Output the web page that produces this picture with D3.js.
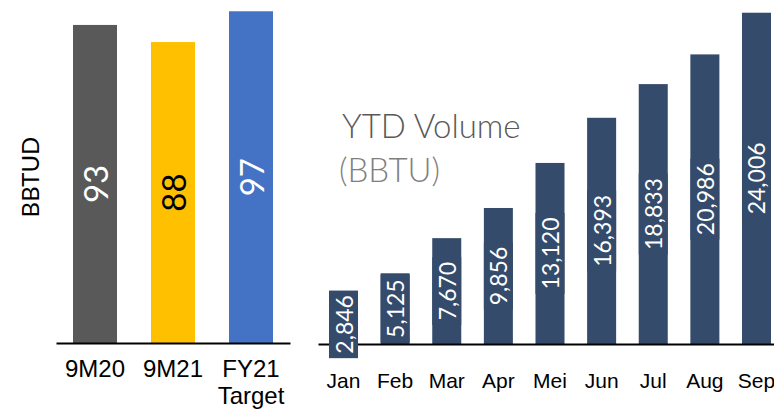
<!DOCTYPE html>
<html>
<head>
<meta charset="utf-8">
<script src="https://cdn.jsdelivr.net/npm/d3@7"></script>
<style>
  body { margin: 0; background: #fff; }
  svg { display: block; font-family: Lato, "Open Sans", sans-serif; }
  .axis path { stroke: #000; stroke-width: 2px; }
  .axis text { fill: #000; }
</style>
</head>
<body>
<div id="chart"></div>
<script>
// left panel: average daily volume
const periods = ["9M20", "9M21", "FY21\nTarget"];
const dailyValues = [93, 88, 97];
const periodColors = ["#595959", "#FFC000", "#4472C4"];
const periodLabelColors = ["#fff", "#000", "#fff"];

// right panel: cumulative volume
const months = ["Jan", "Feb", "Mar", "Apr", "Mei", "Jun", "Jul", "Aug", "Sep"];
const ytdValues = [2846, 5125, 7670, 9856, 13120, 16393, 18833, 20986, 24006];

const W = 774, H = 409;
const fmt = d3.format(",");

const svg = d3.select("#chart").append("svg")
    .attr("width", W)
    .attr("height", H);

// ---- left chart ----
const x1 = d3.scaleBand()
    .domain(periods)
    .range([56, 290])
    .paddingInner(0.436)
    .paddingOuter(0.218);

const y1 = d3.scaleLinear()
    .domain([0, 100])
    .range([343, 1]);

const left = svg.append("g");

left.selectAll(".bar")
    .data(dailyValues)
    .enter()
    .append("rect")
    .attr("class", "bar")
    .attr("x", (d, i) => x1(periods[i]))
    .attr("width", x1.bandwidth())
    .attr("y", d => y1(d))
    .attr("height", d => y1(0) - y1(d))
    .attr("fill", (d, i) => periodColors[i]);

left.selectAll(".val")
    .data(dailyValues)
    .enter()
    .append("text")
    .attr("class", "val")
    .attr("transform", (d, i) => "translate(" + (x1(periods[i]) + x1.bandwidth() / 2) + "," + ((y1(d) + y1(0)) / 2) + ") rotate(-90)")
    .attr("text-anchor", "middle")
    .attr("dominant-baseline", "central")
    .style("font-size", "33px")
    .attr("fill", (d, i) => periodLabelColors[i])
    .text(d => d);

const xAxis1 = left.append("g")
    .attr("class", "axis")
    .attr("transform", "translate(0," + y1(0) + ")")
    .call(d3.axisBottom(x1).tickSize(0).tickPadding(17));

xAxis1.selectAll(".tick text")
    .style("font-size", "24px")
    .each(function(d) {
        const t = d3.select(this);
        const lines = d.split("\n");
        t.text(null);
        lines.forEach((ln, k) => {
            t.append("tspan")
                .attr("x", 0)
                .attr("dy", k === 0 ? "0.71em" : "1.12em")
                .text(ln);
        });
    })
    .attr("dy", null);

left.append("text")
    .attr("transform", "translate(29,177) rotate(-90)")
    .attr("text-anchor", "middle")
    .attr("dominant-baseline", "central")
    .style("font-size", "24px")
    .text("BBTUD");

// ---- right chart ----
const x2 = d3.scaleBand()
    .domain(months)
    .range([318, 782])
    .paddingInner(0.438)
    .paddingOuter(0.213);

const y2 = d3.scaleLinear()
    .domain([0, 25000])
    .range([344, -1]);

const right = svg.append("g");

right.append("text")
    .attr("x", 342)
    .attr("y", 138)
    .style("font-size", "33px")
    .style("font-weight", 300)
    .attr("fill", "#595959")
    .text("YTD Volume");

right.append("text")
    .attr("x", 339)
    .attr("y", 182)
    .style("font-size", "33px")
    .style("font-weight", 300)
    .attr("fill", "#7F7F7F")
    .text("(BBTU)");

const barColor = "#354B6B";

right.selectAll(".bar")
    .data(ytdValues)
    .enter()
    .append("rect")
    .attr("class", "bar")
    .attr("x", (d, i) => x2(months[i]))
    .attr("width", x2.bandwidth())
    .attr("y", d => y2(d))
    .attr("height", d => y2(0) - y2(d))
    .attr("fill", barColor);

// axis goes under the labels: the Jan label box covers the line
const xAxis2 = right.append("g")
    .attr("class", "axis")
    .attr("transform", "translate(0," + y2(0) + ")")
    .call(d3.axisBottom(x2).tickSize(0).tickPadding(29));

xAxis2.selectAll(".tick text")
    .style("font-size", "21px");

const labels = right.selectAll(".lbl")
    .data(ytdValues)
    .enter()
    .append("g")
    .attr("class", "lbl")
    .attr("transform", (d, i) => "translate(" + (x2(months[i]) + x2.bandwidth() / 2) + "," + ((y2(d) + y2(0)) / 2) + ") rotate(-90)");

// label boxes in bar colour (only shows where the label is longer than the bar)
labels.append("rect")
    .attr("fill", barColor);

labels.append("text")
    .attr("text-anchor", "middle")
    .attr("dominant-baseline", "central")
    .style("font-size", "23px")
    .attr("fill", "#fff")
    .text(d => fmt(d));

labels.each(function() {
    const g = d3.select(this);
    const len = g.select("text").node().getComputedTextLength() + 9;
    g.select("rect")
        .attr("x", -len / 2)
        .attr("width", len)
        .attr("y", -x2.bandwidth() / 2)
        .attr("height", x2.bandwidth());
});
</script>
</body>
</html>
